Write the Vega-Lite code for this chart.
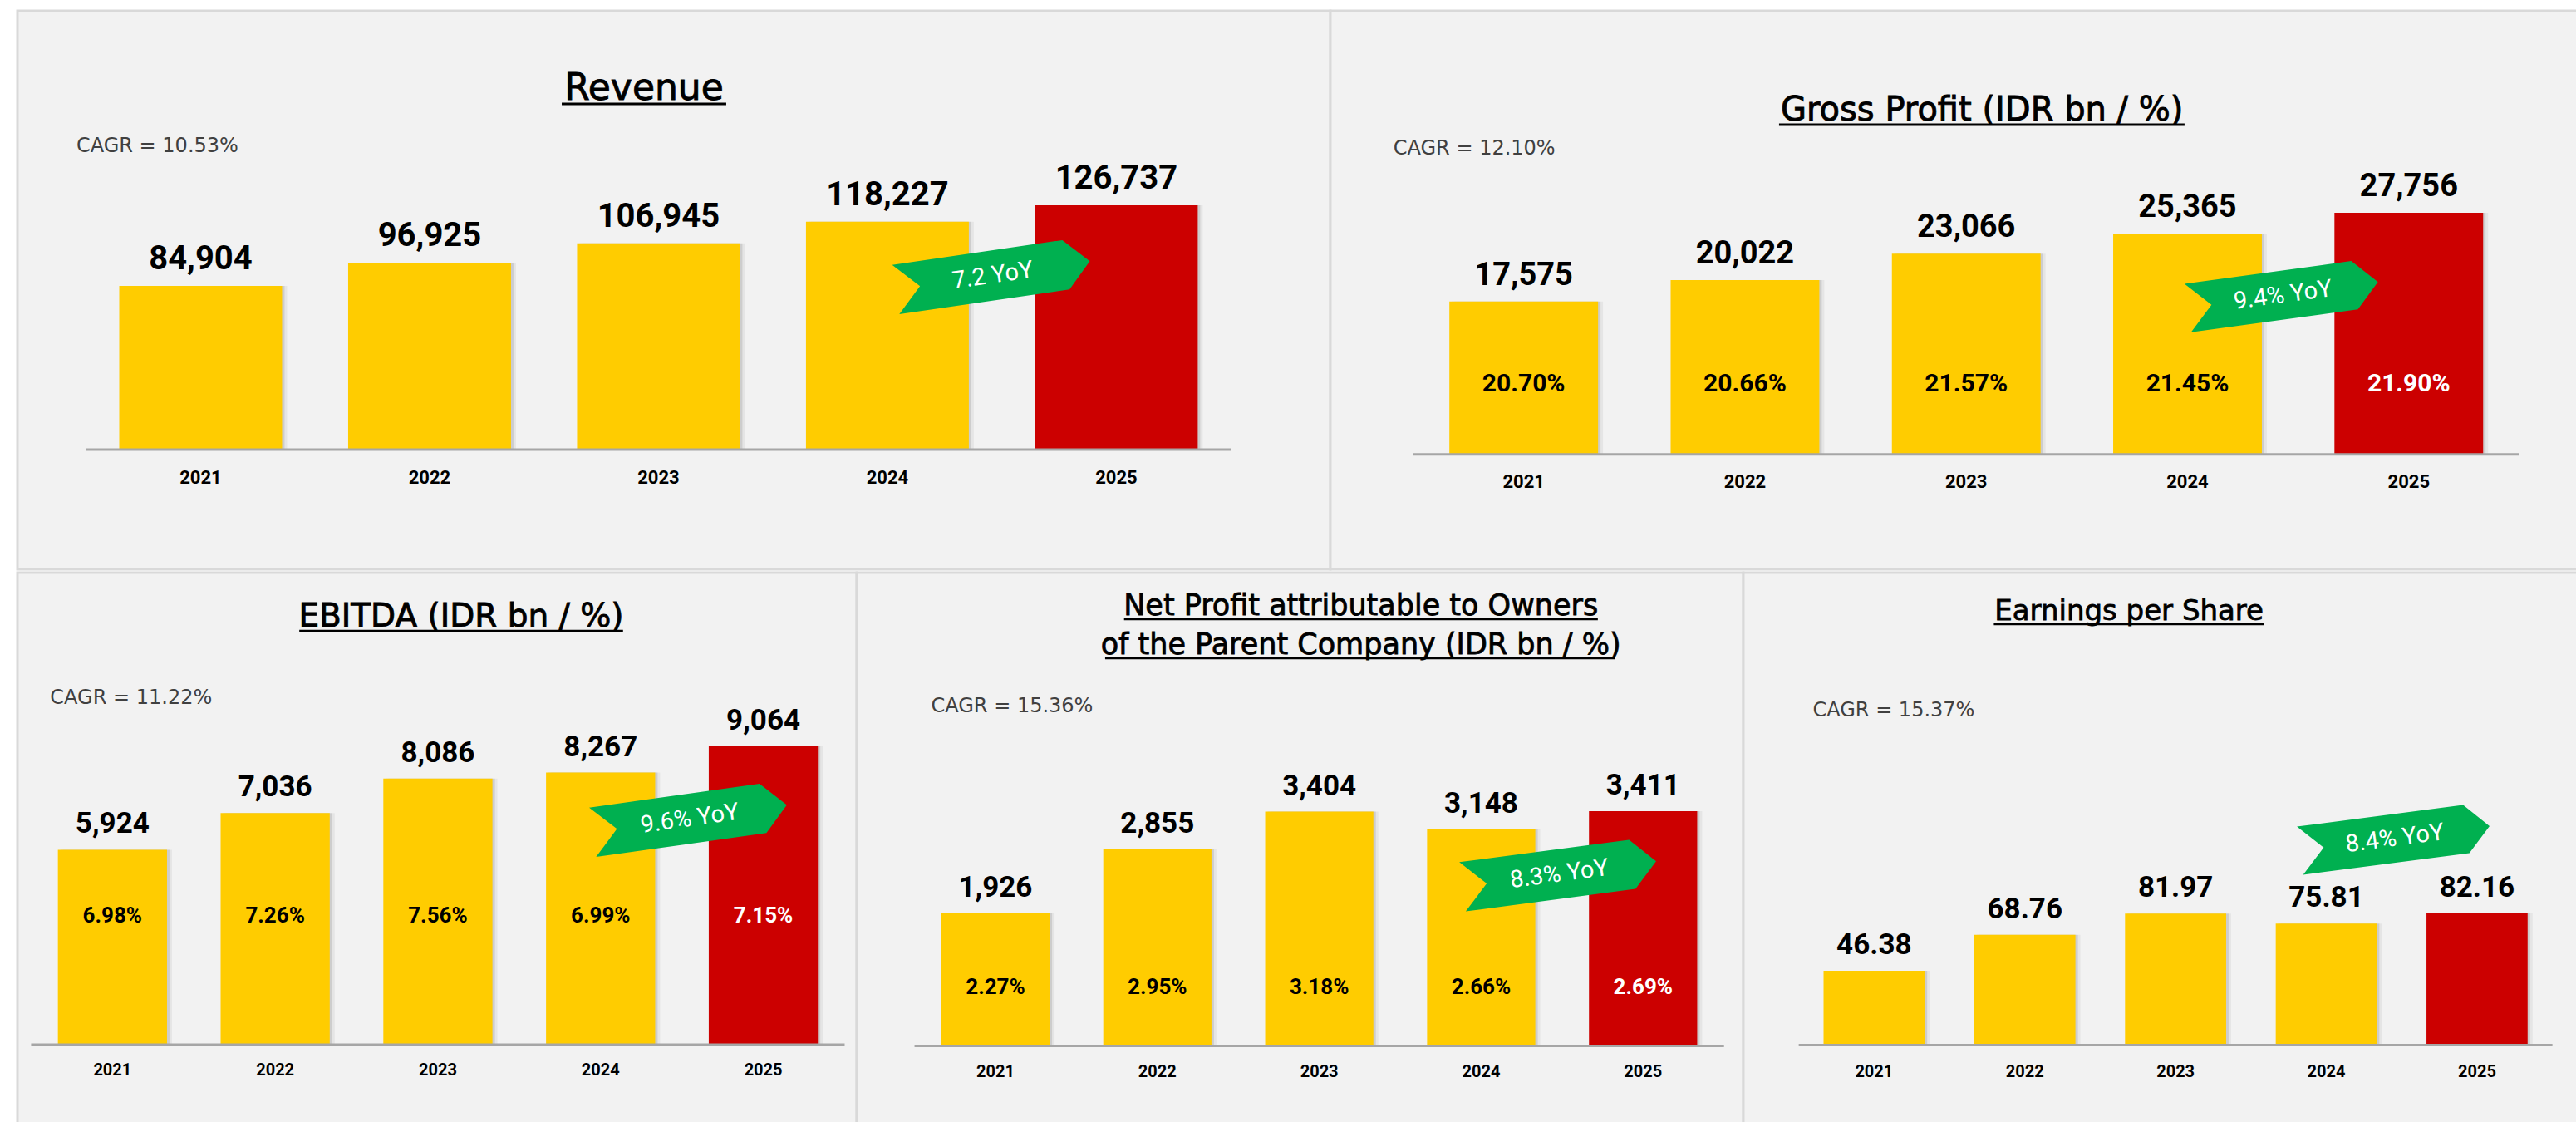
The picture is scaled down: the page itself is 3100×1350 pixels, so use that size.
{
"$schema": "https://vega.github.io/schema/vega-lite/v6.json",
"background": "#FFFFFF",
"padding": {"left": 19, "top": 11, "right": 0, "bottom": 0},
"spacing": 0,
"config": {"view": {"fill": "#F2F2F2", "stroke": "#D9D9D9", "strokeWidth": 3}},
"datasets": {
"revenue": [{"year":"2021","value":84904},{"year":"2022","value":96925},{"year":"2023","value":106945},{"year":"2024","value":118227},{"year":"2025","value":126737}],
"gross": [{"year":"2021","value":17575,"margin":0.2070},{"year":"2022","value":20022,"margin":0.2066},{"year":"2023","value":23066,"margin":0.2157},{"year":"2024","value":25365,"margin":0.2145},{"year":"2025","value":27756,"margin":0.2190}],
"ebitda": [{"year":"2021","value":5924,"margin":0.0698},{"year":"2022","value":7036,"margin":0.0726},{"year":"2023","value":8086,"margin":0.0756},{"year":"2024","value":8267,"margin":0.0699},{"year":"2025","value":9064,"margin":0.0715}],
"net": [{"year":"2021","value":1926,"margin":0.0227},{"year":"2022","value":2855,"margin":0.0295},{"year":"2023","value":3404,"margin":0.0318},{"year":"2024","value":3148,"margin":0.0266},{"year":"2025","value":3411,"margin":0.0269}],
"eps": [{"year":"2021","value":46.38},{"year":"2022","value":68.76},{"year":"2023","value":81.97},{"year":"2024","value":75.81},{"year":"2025","value":82.16}],
"notes": [
{"panel":"Revenue","title":"Revenue","title2":"","cagr":"CAGR = 10.53%","yoy":"7.2 YoY"},
{"panel":"Gross","title":"Gross Profit (IDR bn / %)","title2":"","cagr":"CAGR = 12.10%","yoy":"9.4% YoY"},
{"panel":"EBITDA","title":"EBITDA (IDR bn / %)","title2":"","cagr":"CAGR = 11.22%","yoy":"9.6% YoY"},
{"panel":"Net","title":"Net Profit attributable to Owners","title2":"of the Parent Company (IDR bn / %)","cagr":"CAGR = 15.36%","yoy":"8.3% YoY"},
{"panel":"EPS","title":"Earnings per Share","title2":"","cagr":"CAGR = 15.37%","yoy":"8.4% YoY"}
]
},
"vconcat": [
{"spacing": 0, "bounds": "flush", "hconcat": [
{"width": 1580, "height": 672, "layer": [
{"data":{"name":"revenue"},"mark":{"type":"bar","color":"#000000","opacity":0.1,"xOffset":3},"encoding":{"x":{"field":"year","type":"nominal","scale":{"type":"band","domain":["2021","2022","2023","2024","2025"],"paddingInner":0.2886,"paddingOuter":0.512,"align":0.4342,"round":false},"axis":null},"y":{"field":"value","type":"quantitative","scale":{"domain":[-62061,227557],"zero":false,"nice":false},"axis":null},"y2":{"datum":0}}},
{"data":{"name":"revenue"},"mark":{"type":"bar","color":"#000000","opacity":0.05,"xOffset":6},"encoding":{"x":{"field":"year","type":"nominal","scale":{"type":"band","domain":["2021","2022","2023","2024","2025"],"paddingInner":0.2886,"paddingOuter":0.512,"align":0.4342,"round":false},"axis":null},"y":{"field":"value","type":"quantitative","scale":{"domain":[-62061,227557],"zero":false,"nice":false},"axis":null},"y2":{"datum":0}}},
{"data":{"name":"revenue"},"mark":{"type":"bar"},"encoding":{"x":{"field":"year","type":"nominal","scale":{"type":"band","domain":["2021","2022","2023","2024","2025"],"paddingInner":0.2886,"paddingOuter":0.512,"align":0.4342,"round":false},"axis":null},"y":{"field":"value","type":"quantitative","scale":{"domain":[-62061,227557],"zero":false,"nice":false},"axis":null},"y2":{"datum":0},"color":{"condition":{"test":"datum.year === '2025'","value":"#CC0000"},"value":"#FFCC00"}}},
{"data":{"name":"notes"},"transform":[{"filter":"datum.panel === 'Revenue'"}],"mark":{"type":"rule","color":"#A6A6A6","strokeWidth":3},"encoding":{"x":{"datum":"2021","type":"nominal","bandPosition":-0.2028,"scale":{"type":"band","domain":["2021","2022","2023","2024","2025"],"paddingInner":0.2886,"paddingOuter":0.512,"align":0.4342,"round":false},"axis":null},"x2":{"datum":"2025","bandPosition":1.2028},"y":{"datum":0,"type":"quantitative","scale":{"domain":[-62061,227557],"zero":false,"nice":false},"axis":null}}},
{"data":{"name":"revenue"},"mark":{"type":"text","font":"Roboto","fontWeight":"bold","fontSize":40,"baseline":"alphabetic","dy":-20,"color":"#000000"},"encoding":{"x":{"field":"year","type":"nominal","scale":{"type":"band","domain":["2021","2022","2023","2024","2025"],"paddingInner":0.2886,"paddingOuter":0.512,"align":0.4342,"round":false},"axis":null},"y":{"field":"value","type":"quantitative","scale":{"domain":[-62061,227557],"zero":false,"nice":false},"axis":null},"text":{"field":"value","type":"quantitative","format":","}}},
{"data":{"name":"revenue"},"mark":{"type":"text","font":"Roboto","fontWeight":"bold","fontSize":22,"baseline":"alphabetic","dy":41,"color":"#000000"},"encoding":{"x":{"field":"year","type":"nominal","scale":{"type":"band","domain":["2021","2022","2023","2024","2025"],"paddingInner":0.2886,"paddingOuter":0.512,"align":0.4342,"round":false},"axis":null},"y":{"datum":0,"type":"quantitative","scale":{"domain":[-62061,227557],"zero":false,"nice":false},"axis":null},"text":{"field":"year","type":"nominal"}}},
{"data":{"name":"notes"},"transform":[{"filter":"datum.panel === 'Revenue'"}],"mark":{"type":"text","font":"DejaVu Sans","fontSize":44,"baseline":"alphabetic","align":"center","color":"#000000","stroke":"#000000","strokeWidth":0.9},"encoding":{"x":{"datum":"2023","type":"nominal","bandPosition":0.411,"scale":{"type":"band","domain":["2021","2022","2023","2024","2025"],"paddingInner":0.2886,"paddingOuter":0.512,"align":0.4342,"round":false},"axis":null},"y":{"datum":181443,"type":"quantitative","scale":{"domain":[-62061,227557],"zero":false,"nice":false},"axis":null},"text":{"field":"title","type":"nominal"}}},
{"data":{"name":"notes"},"transform":[{"filter":"datum.panel === 'Revenue'"}],"mark":{"type":"rule","color":"#000000","strokeWidth":3,"yOffset":5},"encoding":{"x":{"datum":"2023","type":"nominal","bandPosition":-0.094,"scale":{"type":"band","domain":["2021","2022","2023","2024","2025"],"paddingInner":0.2886,"paddingOuter":0.512,"align":0.4342,"round":false},"axis":null},"x2":{"datum":"2023","bandPosition":0.916},"y":{"datum":181443,"type":"quantitative","scale":{"domain":[-62061,227557],"zero":false,"nice":false},"axis":null}}},
{"data":{"name":"notes"},"transform":[{"filter":"datum.panel === 'Revenue'"}],"mark":{"type":"text","font":"DejaVu Sans","fontSize":24,"baseline":"alphabetic","align":"left","color":"#404040"},"encoding":{"x":{"datum":"2021","type":"nominal","bandPosition":-0.263,"scale":{"type":"band","domain":["2021","2022","2023","2024","2025"],"paddingInner":0.2886,"paddingOuter":0.512,"align":0.4342,"round":false},"axis":null},"y":{"datum":154161,"type":"quantitative","scale":{"domain":[-62061,227557],"zero":false,"nice":false},"axis":null},"text":{"field":"cagr","type":"nominal"}}},
{"data":{"name":"notes"},"transform":[{"filter":"datum.panel === 'Revenue'"}],"mark":{"type":"point","shape":"M-1,-0.254L0.754,-0.254L1,0L0.754,0.254L-1,0.254L-0.75,0Z","size":55696,"angle":351.7,"filled":true,"color":"#00B050","opacity":1,"strokeWidth":0},"encoding":{"x":{"datum":"2024","type":"nominal","bandPosition":1.147,"scale":{"type":"band","domain":["2021","2022","2023","2024","2025"],"paddingInner":0.2886,"paddingOuter":0.512,"align":0.4342,"round":false},"axis":null},"y":{"datum":90334,"type":"quantitative","scale":{"domain":[-62061,227557],"zero":false,"nice":false},"axis":null}}},
{"data":{"name":"notes"},"transform":[{"filter":"datum.panel === 'Revenue'"}],"mark":{"type":"text","font":"Roboto","fontSize":29,"baseline":"middle","align":"center","angle":351.7,"color":"#FFFFFF"},"encoding":{"x":{"datum":"2024","type":"nominal","bandPosition":1.147,"scale":{"type":"band","domain":["2021","2022","2023","2024","2025"],"paddingInner":0.2886,"paddingOuter":0.512,"align":0.4342,"round":false},"axis":null},"y":{"datum":90334,"type":"quantitative","scale":{"domain":[-62061,227557],"zero":false,"nice":false},"axis":null},"text":{"field":"yoy","type":"nominal"}}}
]},
{"width": 1501, "height": 672, "layer": [
{"data":{"name":"gross"},"mark":{"type":"bar","color":"#000000","opacity":0.1,"xOffset":3},"encoding":{"x":{"field":"year","type":"nominal","scale":{"type":"band","domain":["2021","2022","2023","2024","2025"],"paddingInner":0.328,"paddingOuter":0.4825,"align":0.5573,"round":false},"axis":null},"y":{"field":"value","type":"quantitative","scale":{"domain":[-13191,50951],"zero":false,"nice":false},"axis":null},"y2":{"datum":0}}},
{"data":{"name":"gross"},"mark":{"type":"bar","color":"#000000","opacity":0.05,"xOffset":6},"encoding":{"x":{"field":"year","type":"nominal","scale":{"type":"band","domain":["2021","2022","2023","2024","2025"],"paddingInner":0.328,"paddingOuter":0.4825,"align":0.5573,"round":false},"axis":null},"y":{"field":"value","type":"quantitative","scale":{"domain":[-13191,50951],"zero":false,"nice":false},"axis":null},"y2":{"datum":0}}},
{"data":{"name":"gross"},"mark":{"type":"bar"},"encoding":{"x":{"field":"year","type":"nominal","scale":{"type":"band","domain":["2021","2022","2023","2024","2025"],"paddingInner":0.328,"paddingOuter":0.4825,"align":0.5573,"round":false},"axis":null},"y":{"field":"value","type":"quantitative","scale":{"domain":[-13191,50951],"zero":false,"nice":false},"axis":null},"y2":{"datum":0},"color":{"condition":{"test":"datum.year === '2025'","value":"#CC0000"},"value":"#FFCC00"}}},
{"data":{"name":"notes"},"transform":[{"filter":"datum.panel === 'Gross'"}],"mark":{"type":"rule","color":"#A6A6A6","strokeWidth":3},"encoding":{"x":{"datum":"2021","type":"nominal","bandPosition":-0.2439,"scale":{"type":"band","domain":["2021","2022","2023","2024","2025"],"paddingInner":0.328,"paddingOuter":0.4825,"align":0.5573,"round":false},"axis":null},"x2":{"datum":"2025","bandPosition":1.2439},"y":{"datum":0,"type":"quantitative","scale":{"domain":[-13191,50951],"zero":false,"nice":false},"axis":null}}},
{"data":{"name":"gross"},"mark":{"type":"text","font":"Roboto","fontWeight":"bold","fontSize":38,"baseline":"alphabetic","dy":-20,"color":"#000000"},"encoding":{"x":{"field":"year","type":"nominal","scale":{"type":"band","domain":["2021","2022","2023","2024","2025"],"paddingInner":0.328,"paddingOuter":0.4825,"align":0.5573,"round":false},"axis":null},"y":{"field":"value","type":"quantitative","scale":{"domain":[-13191,50951],"zero":false,"nice":false},"axis":null},"text":{"field":"value","type":"quantitative","format":","}}},
{"data":{"name":"gross"},"mark":{"type":"text","font":"Roboto","fontWeight":"bold","fontSize":30,"baseline":"alphabetic"},"encoding":{"x":{"field":"year","type":"nominal","scale":{"type":"band","domain":["2021","2022","2023","2024","2025"],"paddingInner":0.328,"paddingOuter":0.4825,"align":0.5573,"round":false},"axis":null},"y":{"datum":7273,"type":"quantitative","scale":{"domain":[-13191,50951],"zero":false,"nice":false},"axis":null},"text":{"field":"margin","type":"quantitative","format":".2%"},"color":{"condition":{"test":"datum.year === '2025'","value":"#FFFFFF"},"value":"#000000"}}},
{"data":{"name":"gross"},"mark":{"type":"text","font":"Roboto","fontWeight":"bold","fontSize":22,"baseline":"alphabetic","dy":40,"color":"#000000"},"encoding":{"x":{"field":"year","type":"nominal","scale":{"type":"band","domain":["2021","2022","2023","2024","2025"],"paddingInner":0.328,"paddingOuter":0.4825,"align":0.5573,"round":false},"axis":null},"y":{"datum":0,"type":"quantitative","scale":{"domain":[-13191,50951],"zero":false,"nice":false},"axis":null},"text":{"field":"year","type":"nominal"}}},
{"data":{"name":"notes"},"transform":[{"filter":"datum.panel === 'Gross'"}],"mark":{"type":"text","font":"DejaVu Sans","fontSize":40,"baseline":"alphabetic","align":"center","color":"#000000","stroke":"#000000","strokeWidth":0.9},"encoding":{"x":{"datum":"2023","type":"nominal","bandPosition":0.606,"scale":{"type":"band","domain":["2021","2022","2023","2024","2025"],"paddingInner":0.328,"paddingOuter":0.4825,"align":0.5573,"round":false},"axis":null},"y":{"datum":38352,"type":"quantitative","scale":{"domain":[-13191,50951],"zero":false,"nice":false},"axis":null},"text":{"field":"title","type":"nominal"}}},
{"data":{"name":"notes"},"transform":[{"filter":"datum.panel === 'Gross'"}],"mark":{"type":"rule","color":"#000000","strokeWidth":3,"yOffset":5},"encoding":{"x":{"datum":"2023","type":"nominal","bandPosition":-0.759,"scale":{"type":"band","domain":["2021","2022","2023","2024","2025"],"paddingInner":0.328,"paddingOuter":0.4825,"align":0.5573,"round":false},"axis":null},"x2":{"datum":"2023","bandPosition":1.968},"y":{"datum":38352,"type":"quantitative","scale":{"domain":[-13191,50951],"zero":false,"nice":false},"axis":null}}},
{"data":{"name":"notes"},"transform":[{"filter":"datum.panel === 'Gross'"}],"mark":{"type":"text","font":"DejaVu Sans","fontSize":24,"baseline":"alphabetic","align":"left","color":"#404040"},"encoding":{"x":{"datum":"2021","type":"nominal","bandPosition":-0.377,"scale":{"type":"band","domain":["2021","2022","2023","2024","2025"],"paddingInner":0.328,"paddingOuter":0.4825,"align":0.5573,"round":false},"axis":null},"y":{"datum":34448,"type":"quantitative","scale":{"domain":[-13191,50951],"zero":false,"nice":false},"axis":null},"text":{"field":"cagr","type":"nominal"}}},
{"data":{"name":"notes"},"transform":[{"filter":"datum.panel === 'Gross'"}],"mark":{"type":"point","shape":"M-1,-0.254L0.754,-0.254L1,0L0.754,0.254L-1,0.254L-0.75,0Z","size":53361,"angle":352.2,"filled":true,"color":"#00B050","opacity":1,"strokeWidth":0},"encoding":{"x":{"datum":"2024","type":"nominal","bandPosition":1.141,"scale":{"type":"band","domain":["2021","2022","2023","2024","2025"],"paddingInner":0.328,"paddingOuter":0.4825,"align":0.5573,"round":false},"axis":null},"y":{"datum":18307,"type":"quantitative","scale":{"domain":[-13191,50951],"zero":false,"nice":false},"axis":null}}},
{"data":{"name":"notes"},"transform":[{"filter":"datum.panel === 'Gross'"}],"mark":{"type":"text","font":"Roboto","fontSize":29,"baseline":"middle","align":"center","angle":352.2,"color":"#FFFFFF"},"encoding":{"x":{"datum":"2024","type":"nominal","bandPosition":1.141,"scale":{"type":"band","domain":["2021","2022","2023","2024","2025"],"paddingInner":0.328,"paddingOuter":0.4825,"align":0.5573,"round":false},"axis":null},"y":{"datum":18307,"type":"quantitative","scale":{"domain":[-13191,50951],"zero":false,"nice":false},"axis":null},"text":{"field":"yoy","type":"nominal"}}}
]}
]},
{"spacing": 0, "bounds": "flush", "hconcat": [
{"width": 1010, "height": 667, "layer": [
{"data":{"name":"ebitda"},"mark":{"type":"bar","color":"#000000","opacity":0.1,"xOffset":3},"encoding":{"x":{"field":"year","type":"nominal","scale":{"type":"band","domain":["2021","2022","2023","2024","2025"],"paddingInner":0.3294,"paddingOuter":0.2437,"align":0.51,"round":false},"axis":null},"y":{"field":"value","type":"quantitative","scale":{"domain":[-2496,14339],"zero":false,"nice":false},"axis":null},"y2":{"datum":0}}},
{"data":{"name":"ebitda"},"mark":{"type":"bar","color":"#000000","opacity":0.05,"xOffset":6},"encoding":{"x":{"field":"year","type":"nominal","scale":{"type":"band","domain":["2021","2022","2023","2024","2025"],"paddingInner":0.3294,"paddingOuter":0.2437,"align":0.51,"round":false},"axis":null},"y":{"field":"value","type":"quantitative","scale":{"domain":[-2496,14339],"zero":false,"nice":false},"axis":null},"y2":{"datum":0}}},
{"data":{"name":"ebitda"},"mark":{"type":"bar"},"encoding":{"x":{"field":"year","type":"nominal","scale":{"type":"band","domain":["2021","2022","2023","2024","2025"],"paddingInner":0.3294,"paddingOuter":0.2437,"align":0.51,"round":false},"axis":null},"y":{"field":"value","type":"quantitative","scale":{"domain":[-2496,14339],"zero":false,"nice":false},"axis":null},"y2":{"datum":0},"color":{"condition":{"test":"datum.year === '2025'","value":"#CC0000"},"value":"#FFCC00"}}},
{"data":{"name":"notes"},"transform":[{"filter":"datum.panel === 'EBITDA'"}],"mark":{"type":"rule","color":"#A6A6A6","strokeWidth":3},"encoding":{"x":{"datum":"2021","type":"nominal","bandPosition":-0.2456,"scale":{"type":"band","domain":["2021","2022","2023","2024","2025"],"paddingInner":0.3294,"paddingOuter":0.2437,"align":0.51,"round":false},"axis":null},"x2":{"datum":"2025","bandPosition":1.2456},"y":{"datum":0,"type":"quantitative","scale":{"domain":[-2496,14339],"zero":false,"nice":false},"axis":null}}},
{"data":{"name":"ebitda"},"mark":{"type":"text","font":"Roboto","fontWeight":"bold","fontSize":35,"baseline":"alphabetic","dy":-20,"color":"#000000"},"encoding":{"x":{"field":"year","type":"nominal","scale":{"type":"band","domain":["2021","2022","2023","2024","2025"],"paddingInner":0.3294,"paddingOuter":0.2437,"align":0.51,"round":false},"axis":null},"y":{"field":"value","type":"quantitative","scale":{"domain":[-2496,14339],"zero":false,"nice":false},"axis":null},"text":{"field":"value","type":"quantitative","format":","}}},
{"data":{"name":"ebitda"},"mark":{"type":"text","font":"Roboto","fontWeight":"bold","fontSize":26,"baseline":"alphabetic"},"encoding":{"x":{"field":"year","type":"nominal","scale":{"type":"band","domain":["2021","2022","2023","2024","2025"],"paddingInner":0.3294,"paddingOuter":0.2437,"align":0.51,"round":false},"axis":null},"y":{"datum":3720,"type":"quantitative","scale":{"domain":[-2496,14339],"zero":false,"nice":false},"axis":null},"text":{"field":"margin","type":"quantitative","format":".2%"},"color":{"condition":{"test":"datum.year === '2025'","value":"#FFFFFF"},"value":"#000000"}}},
{"data":{"name":"ebitda"},"mark":{"type":"text","font":"Roboto","fontWeight":"bold","fontSize":20,"baseline":"alphabetic","dy":37,"color":"#000000"},"encoding":{"x":{"field":"year","type":"nominal","scale":{"type":"band","domain":["2021","2022","2023","2024","2025"],"paddingInner":0.3294,"paddingOuter":0.2437,"align":0.51,"round":false},"axis":null},"y":{"datum":0,"type":"quantitative","scale":{"domain":[-2496,14339],"zero":false,"nice":false},"axis":null},"text":{"field":"year","type":"nominal"}}},
{"data":{"name":"notes"},"transform":[{"filter":"datum.panel === 'EBITDA'"}],"mark":{"type":"text","font":"DejaVu Sans","fontSize":39,"baseline":"alphabetic","align":"center","color":"#000000","stroke":"#000000","strokeWidth":0.9},"encoding":{"x":{"datum":"2023","type":"nominal","bandPosition":0.713,"scale":{"type":"band","domain":["2021","2022","2023","2024","2025"],"paddingInner":0.3294,"paddingOuter":0.2437,"align":0.51,"round":false},"axis":null},"y":{"datum":12698,"type":"quantitative","scale":{"domain":[-2496,14339],"zero":false,"nice":false},"axis":null},"text":{"field":"title","type":"nominal"}}},
{"data":{"name":"notes"},"transform":[{"filter":"datum.panel === 'EBITDA'"}],"mark":{"type":"rule","color":"#000000","strokeWidth":2.5,"yOffset":5},"encoding":{"x":{"datum":"2023","type":"nominal","bandPosition":-0.77,"scale":{"type":"band","domain":["2021","2022","2023","2024","2025"],"paddingInner":0.3294,"paddingOuter":0.2437,"align":0.51,"round":false},"axis":null},"x2":{"datum":"2023","bandPosition":2.197},"y":{"datum":12698,"type":"quantitative","scale":{"domain":[-2496,14339],"zero":false,"nice":false},"axis":null}}},
{"data":{"name":"notes"},"transform":[{"filter":"datum.panel === 'EBITDA'"}],"mark":{"type":"text","font":"DejaVu Sans","fontSize":24,"baseline":"alphabetic","align":"left","color":"#404040"},"encoding":{"x":{"datum":"2021","type":"nominal","bandPosition":-0.071,"scale":{"type":"band","domain":["2021","2022","2023","2024","2025"],"paddingInner":0.3294,"paddingOuter":0.2437,"align":0.51,"round":false},"axis":null},"y":{"datum":10343,"type":"quantitative","scale":{"domain":[-2496,14339],"zero":false,"nice":false},"axis":null},"text":{"field":"cagr","type":"nominal"}}},
{"data":{"name":"notes"},"transform":[{"filter":"datum.panel === 'EBITDA'"}],"mark":{"type":"point","shape":"M-1,-0.254L0.754,-0.254L1,0L0.754,0.254L-1,0.254L-0.75,0Z","size":55696,"angle":352,"filled":true,"color":"#00B050","opacity":1,"strokeWidth":0},"encoding":{"x":{"datum":"2024","type":"nominal","bandPosition":1.317,"scale":{"type":"band","domain":["2021","2022","2023","2024","2025"],"paddingInner":0.3294,"paddingOuter":0.2437,"align":0.51,"round":false},"axis":null},"y":{"datum":6868,"type":"quantitative","scale":{"domain":[-2496,14339],"zero":false,"nice":false},"axis":null}}},
{"data":{"name":"notes"},"transform":[{"filter":"datum.panel === 'EBITDA'"}],"mark":{"type":"text","font":"Roboto","fontSize":29,"baseline":"middle","align":"center","angle":352,"color":"#FFFFFF"},"encoding":{"x":{"datum":"2024","type":"nominal","bandPosition":1.317,"scale":{"type":"band","domain":["2021","2022","2023","2024","2025"],"paddingInner":0.3294,"paddingOuter":0.2437,"align":0.51,"round":false},"axis":null},"y":{"datum":6868,"type":"quantitative","scale":{"domain":[-2496,14339],"zero":false,"nice":false},"axis":null},"text":{"field":"yoy","type":"nominal"}}}
]},
{"width": 1067, "height": 667, "layer": [
{"data":{"name":"net"},"mark":{"type":"bar","color":"#000000","opacity":0.1,"xOffset":3},"encoding":{"x":{"field":"year","type":"nominal","scale":{"type":"band","domain":["2021","2022","2023","2024","2025"],"paddingInner":0.3316,"paddingOuter":0.404,"align":0.647,"round":false},"axis":null},"y":{"field":"value","type":"quantitative","scale":{"domain":[-1179,6878],"zero":false,"nice":false},"axis":null},"y2":{"datum":0}}},
{"data":{"name":"net"},"mark":{"type":"bar","color":"#000000","opacity":0.05,"xOffset":6},"encoding":{"x":{"field":"year","type":"nominal","scale":{"type":"band","domain":["2021","2022","2023","2024","2025"],"paddingInner":0.3316,"paddingOuter":0.404,"align":0.647,"round":false},"axis":null},"y":{"field":"value","type":"quantitative","scale":{"domain":[-1179,6878],"zero":false,"nice":false},"axis":null},"y2":{"datum":0}}},
{"data":{"name":"net"},"mark":{"type":"bar"},"encoding":{"x":{"field":"year","type":"nominal","scale":{"type":"band","domain":["2021","2022","2023","2024","2025"],"paddingInner":0.3316,"paddingOuter":0.404,"align":0.647,"round":false},"axis":null},"y":{"field":"value","type":"quantitative","scale":{"domain":[-1179,6878],"zero":false,"nice":false},"axis":null},"y2":{"datum":0},"color":{"condition":{"test":"datum.year === '2025'","value":"#CC0000"},"value":"#FFCC00"}}},
{"data":{"name":"notes"},"transform":[{"filter":"datum.panel === 'Net'"}],"mark":{"type":"rule","color":"#A6A6A6","strokeWidth":3},"encoding":{"x":{"datum":"2021","type":"nominal","bandPosition":-0.248,"scale":{"type":"band","domain":["2021","2022","2023","2024","2025"],"paddingInner":0.3316,"paddingOuter":0.404,"align":0.647,"round":false},"axis":null},"x2":{"datum":"2025","bandPosition":1.248},"y":{"datum":0,"type":"quantitative","scale":{"domain":[-1179,6878],"zero":false,"nice":false},"axis":null}}},
{"data":{"name":"net"},"mark":{"type":"text","font":"Roboto","fontWeight":"bold","fontSize":35,"baseline":"alphabetic","dy":-20,"color":"#000000"},"encoding":{"x":{"field":"year","type":"nominal","scale":{"type":"band","domain":["2021","2022","2023","2024","2025"],"paddingInner":0.3316,"paddingOuter":0.404,"align":0.647,"round":false},"axis":null},"y":{"field":"value","type":"quantitative","scale":{"domain":[-1179,6878],"zero":false,"nice":false},"axis":null},"text":{"field":"value","type":"quantitative","format":","}}},
{"data":{"name":"net"},"mark":{"type":"text","font":"Roboto","fontWeight":"bold","fontSize":26,"baseline":"alphabetic"},"encoding":{"x":{"field":"year","type":"nominal","scale":{"type":"band","domain":["2021","2022","2023","2024","2025"],"paddingInner":0.3316,"paddingOuter":0.404,"align":0.647,"round":false},"axis":null},"y":{"datum":749,"type":"quantitative","scale":{"domain":[-1179,6878],"zero":false,"nice":false},"axis":null},"text":{"field":"margin","type":"quantitative","format":".2%"},"color":{"condition":{"test":"datum.year === '2025'","value":"#FFFFFF"},"value":"#000000"}}},
{"data":{"name":"net"},"mark":{"type":"text","font":"Roboto","fontWeight":"bold","fontSize":20,"baseline":"alphabetic","dy":38,"color":"#000000"},"encoding":{"x":{"field":"year","type":"nominal","scale":{"type":"band","domain":["2021","2022","2023","2024","2025"],"paddingInner":0.3316,"paddingOuter":0.404,"align":0.647,"round":false},"axis":null},"y":{"datum":0,"type":"quantitative","scale":{"domain":[-1179,6878],"zero":false,"nice":false},"axis":null},"text":{"field":"year","type":"nominal"}}},
{"data":{"name":"notes"},"transform":[{"filter":"datum.panel === 'Net'"}],"mark":{"type":"text","font":"DejaVu Sans","fontSize":35,"baseline":"alphabetic","align":"center","color":"#000000","stroke":"#000000","strokeWidth":0.8},"encoding":{"x":{"datum":"2023","type":"nominal","bandPosition":0.884,"scale":{"type":"band","domain":["2021","2022","2023","2024","2025"],"paddingInner":0.3316,"paddingOuter":0.404,"align":0.647,"round":false},"axis":null},"y":{"datum":6262,"type":"quantitative","scale":{"domain":[-1179,6878],"zero":false,"nice":false},"axis":null},"text":{"field":"title","type":"nominal"}}},
{"data":{"name":"notes"},"transform":[{"filter":"datum.panel === 'Net'"}],"mark":{"type":"text","font":"DejaVu Sans","fontSize":35,"baseline":"alphabetic","align":"center","color":"#000000","stroke":"#000000","strokeWidth":0.8},"encoding":{"x":{"datum":"2023","type":"nominal","bandPosition":0.884,"scale":{"type":"band","domain":["2021","2022","2023","2024","2025"],"paddingInner":0.3316,"paddingOuter":0.404,"align":0.647,"round":false},"axis":null},"y":{"datum":5694,"type":"quantitative","scale":{"domain":[-1179,6878],"zero":false,"nice":false},"axis":null},"text":{"field":"title2","type":"nominal"}}},
{"data":{"name":"notes"},"transform":[{"filter":"datum.panel === 'Net'"}],"mark":{"type":"rule","color":"#000000","strokeWidth":2.5,"yOffset":5},"encoding":{"x":{"datum":"2023","type":"nominal","bandPosition":-1.304,"scale":{"type":"band","domain":["2021","2022","2023","2024","2025"],"paddingInner":0.3316,"paddingOuter":0.404,"align":0.647,"round":false},"axis":null},"x2":{"datum":"2023","bandPosition":3.074},"y":{"datum":6262,"type":"quantitative","scale":{"domain":[-1179,6878],"zero":false,"nice":false},"axis":null}}},
{"data":{"name":"notes"},"transform":[{"filter":"datum.panel === 'Net'"}],"mark":{"type":"rule","color":"#000000","strokeWidth":2.5,"yOffset":5},"encoding":{"x":{"datum":"2023","type":"nominal","bandPosition":-1.479,"scale":{"type":"band","domain":["2021","2022","2023","2024","2025"],"paddingInner":0.3316,"paddingOuter":0.404,"align":0.647,"round":false},"axis":null},"x2":{"datum":"2023","bandPosition":3.234},"y":{"datum":5694,"type":"quantitative","scale":{"domain":[-1179,6878],"zero":false,"nice":false},"axis":null}}},
{"data":{"name":"notes"},"transform":[{"filter":"datum.panel === 'Net'"}],"mark":{"type":"text","font":"DejaVu Sans","fontSize":24,"baseline":"alphabetic","align":"left","color":"#404040"},"encoding":{"x":{"datum":"2021","type":"nominal","bandPosition":-0.095,"scale":{"type":"band","domain":["2021","2022","2023","2024","2025"],"paddingInner":0.3316,"paddingOuter":0.404,"align":0.647,"round":false},"axis":null},"y":{"datum":4845,"type":"quantitative","scale":{"domain":[-1179,6878],"zero":false,"nice":false},"axis":null},"text":{"field":"cagr","type":"nominal"}}},
{"data":{"name":"notes"},"transform":[{"filter":"datum.panel === 'Net'"}],"mark":{"type":"point","shape":"M-1,-0.254L0.754,-0.254L1,0L0.754,0.254L-1,0.254L-0.75,0Z","size":55225,"angle":352.5,"filled":true,"color":"#00B050","opacity":1,"strokeWidth":0},"encoding":{"x":{"datum":"2024","type":"nominal","bandPosition":1.222,"scale":{"type":"band","domain":["2021","2022","2023","2024","2025"],"paddingInner":0.3316,"paddingOuter":0.404,"align":0.647,"round":false},"axis":null},"y":{"datum":2498,"type":"quantitative","scale":{"domain":[-1179,6878],"zero":false,"nice":false},"axis":null}}},
{"data":{"name":"notes"},"transform":[{"filter":"datum.panel === 'Net'"}],"mark":{"type":"text","font":"Roboto","fontSize":29,"baseline":"middle","align":"center","angle":352.5,"color":"#FFFFFF"},"encoding":{"x":{"datum":"2024","type":"nominal","bandPosition":1.222,"scale":{"type":"band","domain":["2021","2022","2023","2024","2025"],"paddingInner":0.3316,"paddingOuter":0.404,"align":0.647,"round":false},"axis":null},"y":{"datum":2498,"type":"quantitative","scale":{"domain":[-1179,6878],"zero":false,"nice":false},"axis":null},"text":{"field":"yoy","type":"nominal"}}}
]},
{"width": 1004, "height": 667, "layer": [
{"data":{"name":"eps"},"mark":{"type":"bar","color":"#000000","opacity":0.1,"xOffset":3},"encoding":{"x":{"field":"year","type":"nominal","scale":{"type":"band","domain":["2021","2022","2023","2024","2025"],"paddingInner":0.329,"paddingOuter":0.432,"align":0.6157,"round":false},"axis":null},"y":{"field":"value","type":"quantitative","scale":{"domain":[-51.0,294.5],"zero":false,"nice":false},"axis":null},"y2":{"datum":0}}},
{"data":{"name":"eps"},"mark":{"type":"bar","color":"#000000","opacity":0.05,"xOffset":6},"encoding":{"x":{"field":"year","type":"nominal","scale":{"type":"band","domain":["2021","2022","2023","2024","2025"],"paddingInner":0.329,"paddingOuter":0.432,"align":0.6157,"round":false},"axis":null},"y":{"field":"value","type":"quantitative","scale":{"domain":[-51.0,294.5],"zero":false,"nice":false},"axis":null},"y2":{"datum":0}}},
{"data":{"name":"eps"},"mark":{"type":"bar"},"encoding":{"x":{"field":"year","type":"nominal","scale":{"type":"band","domain":["2021","2022","2023","2024","2025"],"paddingInner":0.329,"paddingOuter":0.432,"align":0.6157,"round":false},"axis":null},"y":{"field":"value","type":"quantitative","scale":{"domain":[-51.0,294.5],"zero":false,"nice":false},"axis":null},"y2":{"datum":0},"color":{"condition":{"test":"datum.year === '2025'","value":"#CC0000"},"value":"#FFCC00"}}},
{"data":{"name":"notes"},"transform":[{"filter":"datum.panel === 'EPS'"}],"mark":{"type":"rule","color":"#A6A6A6","strokeWidth":3},"encoding":{"x":{"datum":"2021","type":"nominal","bandPosition":-0.2453,"scale":{"type":"band","domain":["2021","2022","2023","2024","2025"],"paddingInner":0.329,"paddingOuter":0.432,"align":0.6157,"round":false},"axis":null},"x2":{"datum":"2025","bandPosition":1.2453},"y":{"datum":0,"type":"quantitative","scale":{"domain":[-51.0,294.5],"zero":false,"nice":false},"axis":null}}},
{"data":{"name":"eps"},"mark":{"type":"text","font":"Roboto","fontWeight":"bold","fontSize":35,"baseline":"alphabetic","dy":-20,"color":"#000000"},"encoding":{"x":{"field":"year","type":"nominal","scale":{"type":"band","domain":["2021","2022","2023","2024","2025"],"paddingInner":0.329,"paddingOuter":0.432,"align":0.6157,"round":false},"axis":null},"y":{"field":"value","type":"quantitative","scale":{"domain":[-51.0,294.5],"zero":false,"nice":false},"axis":null},"text":{"field":"value","type":"quantitative","format":".2f"}}},
{"data":{"name":"eps"},"mark":{"type":"text","font":"Roboto","fontWeight":"bold","fontSize":20,"baseline":"alphabetic","dy":38,"color":"#000000"},"encoding":{"x":{"field":"year","type":"nominal","scale":{"type":"band","domain":["2021","2022","2023","2024","2025"],"paddingInner":0.329,"paddingOuter":0.432,"align":0.6157,"round":false},"axis":null},"y":{"datum":0,"type":"quantitative","scale":{"domain":[-51.0,294.5],"zero":false,"nice":false},"axis":null},"text":{"field":"year","type":"nominal"}}},
{"data":{"name":"notes"},"transform":[{"filter":"datum.panel === 'EPS'"}],"mark":{"type":"text","font":"DejaVu Sans","fontSize":34,"baseline":"alphabetic","align":"center","color":"#000000","stroke":"#000000","strokeWidth":0.8},"encoding":{"x":{"datum":"2023","type":"nominal","bandPosition":0.04,"scale":{"type":"band","domain":["2021","2022","2023","2024","2025"],"paddingInner":0.329,"paddingOuter":0.432,"align":0.6157,"round":false},"axis":null},"y":{"datum":265.0,"type":"quantitative","scale":{"domain":[-51.0,294.5],"zero":false,"nice":false},"axis":null},"text":{"field":"title","type":"nominal"}}},
{"data":{"name":"notes"},"transform":[{"filter":"datum.panel === 'EPS'"}],"mark":{"type":"rule","color":"#000000","strokeWidth":2.5,"yOffset":5},"encoding":{"x":{"datum":"2023","type":"nominal","bandPosition":-1.297,"scale":{"type":"band","domain":["2021","2022","2023","2024","2025"],"paddingInner":0.329,"paddingOuter":0.432,"align":0.6157,"round":false},"axis":null},"x2":{"datum":"2023","bandPosition":1.376},"y":{"datum":265.0,"type":"quantitative","scale":{"domain":[-51.0,294.5],"zero":false,"nice":false},"axis":null}}},
{"data":{"name":"notes"},"transform":[{"filter":"datum.panel === 'EPS'"}],"mark":{"type":"text","font":"DejaVu Sans","fontSize":24,"baseline":"alphabetic","align":"left","color":"#404040"},"encoding":{"x":{"datum":"2021","type":"nominal","bandPosition":-0.107,"scale":{"type":"band","domain":["2021","2022","2023","2024","2025"],"paddingInner":0.329,"paddingOuter":0.432,"align":0.6157,"round":false},"axis":null},"y":{"datum":205.1,"type":"quantitative","scale":{"domain":[-51.0,294.5],"zero":false,"nice":false},"axis":null},"text":{"field":"cagr","type":"nominal"}}},
{"data":{"name":"notes"},"transform":[{"filter":"datum.panel === 'EPS'"}],"mark":{"type":"point","shape":"M-1,-0.254L0.754,-0.254L1,0L0.754,0.254L-1,0.254L-0.75,0Z","size":52900,"angle":352.6,"filled":true,"color":"#00B050","opacity":1,"strokeWidth":0},"encoding":{"x":{"datum":"2024","type":"nominal","bandPosition":1.177,"scale":{"type":"band","domain":["2021","2022","2023","2024","2025"],"paddingInner":0.329,"paddingOuter":0.432,"align":0.6157,"round":false},"axis":null},"y":{"datum":128.9,"type":"quantitative","scale":{"domain":[-51.0,294.5],"zero":false,"nice":false},"axis":null}}},
{"data":{"name":"notes"},"transform":[{"filter":"datum.panel === 'EPS'"}],"mark":{"type":"text","font":"Roboto","fontSize":29,"baseline":"middle","align":"center","angle":352.6,"color":"#FFFFFF"},"encoding":{"x":{"datum":"2024","type":"nominal","bandPosition":1.177,"scale":{"type":"band","domain":["2021","2022","2023","2024","2025"],"paddingInner":0.329,"paddingOuter":0.432,"align":0.6157,"round":false},"axis":null},"y":{"datum":128.9,"type":"quantitative","scale":{"domain":[-51.0,294.5],"zero":false,"nice":false},"axis":null},"text":{"field":"yoy","type":"nominal"}}}
]}
]}
]
}
